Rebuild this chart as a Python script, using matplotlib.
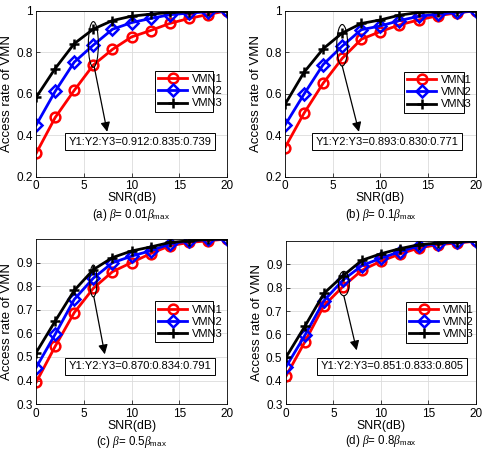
import numpy as np
import matplotlib
matplotlib.use("Agg")
import matplotlib.pyplot as plt
from matplotlib.patches import Ellipse

plt.rcParams['font.family'] = ['Liberation Sans', 'DejaVu Sans']
plt.rcParams['mathtext.fontset'] = 'custom'
plt.rcParams['mathtext.it'] = 'Liberation Serif:italic'
plt.rcParams['mathtext.rm'] = 'Liberation Sans'

snr = [0, 2, 4, 6, 8, 10, 12, 14, 16, 18, 20]

# (a) beta = 0.01 beta_max
a_vmn1 = [0.313, 0.486, 0.617, 0.739, 0.814, 0.874, 0.905, 0.939, 0.963, 0.982, 1.0]
a_vmn2 = [0.449, 0.612, 0.753, 0.835, 0.911, 0.943, 0.963, 0.981, 0.989, 0.995, 1.0]
a_vmn3 = [0.583, 0.722, 0.842, 0.912, 0.953, 0.974, 0.984, 0.992, 0.995, 0.998, 1.0]
# (b) beta = 0.1 beta_max
b_vmn1 = [0.341, 0.507, 0.651, 0.771, 0.863, 0.900, 0.932, 0.956, 0.976, 0.990, 1.0]
b_vmn2 = [0.449, 0.599, 0.741, 0.830, 0.909, 0.927, 0.953, 0.973, 0.984, 0.992, 1.0]
b_vmn3 = [0.549, 0.704, 0.817, 0.893, 0.939, 0.956, 0.979, 0.992, 0.995, 0.998, 1.0]
# (c) beta = 0.5 beta_max
c_vmn1 = [0.392, 0.545, 0.688, 0.791, 0.861, 0.900, 0.938, 0.971, 0.985, 0.992, 1.0]
c_vmn2 = [0.455, 0.596, 0.744, 0.834, 0.899, 0.927, 0.950, 0.978, 0.992, 0.998, 1.0]
c_vmn3 = [0.518, 0.652, 0.782, 0.870, 0.921, 0.949, 0.966, 0.985, 0.992, 0.998, 1.0]
# (d) beta = 0.8 beta_max
d_vmn1 = [0.420, 0.568, 0.723, 0.805, 0.875, 0.914, 0.945, 0.971, 0.985, 0.992, 1.0]
d_vmn2 = [0.460, 0.596, 0.744, 0.833, 0.895, 0.927, 0.955, 0.980, 0.990, 0.996, 1.0]
d_vmn3 = [0.501, 0.635, 0.776, 0.851, 0.918, 0.946, 0.968, 0.985, 0.992, 0.998, 1.0]

labels = ['VMN1', 'VMN2', 'VMN3']
ratio_texts = ['Y1:Y2:Y3=0.912:0.835:0.739', 'Y1:Y2:Y3=0.893:0.830:0.771',
               'Y1:Y2:Y3=0.870:0.834:0.791', 'Y1:Y2:Y3=0.851:0.833:0.805']
captions = [r'(a) $\beta$= 0.01$\beta_{\rm max}$', r'(b) $\beta$= 0.1$\beta_{\rm max}$',
            r'(c) $\beta$= 0.5$\beta_{\rm max}$', r'(d) $\beta$= 0.8$\beta_{\rm max}$']

panels = [
    dict(data=(a_vmn1, a_vmn2, a_vmn3), rect=[0.074, 0.607, 0.391, 0.369],
         ylim=(0.2, 1.0), yticks=[0.2, 0.4, 0.6, 0.8, 1.0],
         ell=(6, 0.838, 1.05, 0.22), arrow=((6.1, 0.728), (7.45, 0.417)),
         box=(10.9, 0.369), leg=(0.623, 0.392, 0.304, 0.265)),
    dict(data=(b_vmn1, b_vmn2, b_vmn3), rect=[0.584, 0.607, 0.391, 0.369],
         ylim=(0.2, 1.0), yticks=[0.2, 0.4, 0.6, 0.8, 1.0],
         ell=(6, 0.834, 1.15, 0.20), arrow=((6.0, 0.734), (7.75, 0.417)),
         box=(10.7, 0.369), leg=(0.623, 0.386, 0.314, 0.216)),
    dict(data=(c_vmn1, c_vmn2, c_vmn3), rect=[0.074, 0.102, 0.391, 0.367],
         ylim=(0.3, 1.0), yticks=[0.3, 0.4, 0.5, 0.6, 0.7, 0.8, 0.9],
         ell=(6, 0.822, 0.75, 0.135), arrow=((6.05, 0.755), (7.2, 0.511)),
         box=(10.9, 0.460), leg=(0.623, 0.373, 0.304, 0.26)),
    dict(data=(d_vmn1, d_vmn2, d_vmn3), rect=[0.586, 0.102, 0.389, 0.362],
         ylim=(0.3, 1.0), yticks=[0.3, 0.4, 0.5, 0.6, 0.7, 0.8, 0.9],
         ell=(6.1, 0.818, 1.15, 0.105), arrow=((6.1, 0.765), (7.45, 0.531)),
         box=(11.2, 0.463), leg=(0.632, 0.377, 0.321, 0.246)),
]

styles = [dict(color='red', marker='o', markersize=7, markerfacecolor='none', markeredgewidth=1.8),
          dict(color='blue', marker='D', markersize=6, markerfacecolor='none', markeredgewidth=1.8),
          dict(color='black', marker='+', markersize=7, markeredgewidth=1.8)]

fig = plt.figure(figsize=(4.88, 4.5), dpi=100)

for p, txt, cap in zip(panels, ratio_texts, captions):
    ax = fig.add_axes(p['rect'])
    for ys, lab, st in zip(p['data'], labels, styles):
        ax.plot(snr, ys, linewidth=2.0, label=lab, **st)
    ax.set_xlim(0, 20)
    ax.set_ylim(*p['ylim'])
    ax.set_xticks([0, 5, 10, 15, 20])
    ax.set_yticks(p['yticks'])
    ax.set_yticklabels([f'{v:g}' for v in p['yticks']])
    ax.grid(True, color='#dcdcdc', linewidth=0.6)
    ax.set_axisbelow(True)
    ax.tick_params(labelsize=8.5, direction='in', length=3, width=0.5, pad=2.5)
    for s in ax.spines.values():
        s.set_linewidth(0.6)
    ax.set_ylabel('Access rate of VMN', fontsize=9.5, labelpad=2)
    ax.set_xlabel('SNR(dB)', fontsize=8.8, labelpad=0)
    ax.text(0.5, -0.18, cap, transform=ax.transAxes, fontsize=8.3, ha='center', va='top')

    cx, cy, w, h = p['ell']
    ax.add_patch(Ellipse((cx, cy), w, h, fill=False, edgecolor='black', linewidth=0.8, zorder=5))
    (x0, y0), (x1, y1) = p['arrow']
    ax.annotate('', xy=(x1, y1), xytext=(x0, y0),
                arrowprops=dict(arrowstyle='-|>', color='black', linewidth=0.9,
                                mutation_scale=14, shrinkA=0, shrinkB=0), zorder=6)
    ax.text(p['box'][0], p['box'][1], txt, fontsize=8, ha='center', va='center', zorder=6,
            bbox=dict(boxstyle='square,pad=0.3', facecolor='white', edgecolor='black', linewidth=0.7))
    leg = ax.legend(loc='lower left', bbox_to_anchor=p['leg'], mode='expand', fontsize=8,
                    frameon=True, fancybox=False, edgecolor='black', framealpha=1,
                    handlelength=2.6, borderpad=0.3, labelspacing=0.2, handletextpad=0.4,
                    borderaxespad=0)
    leg.get_frame().set_linewidth(0.7)

fig.savefig('out.png', dpi=100)
